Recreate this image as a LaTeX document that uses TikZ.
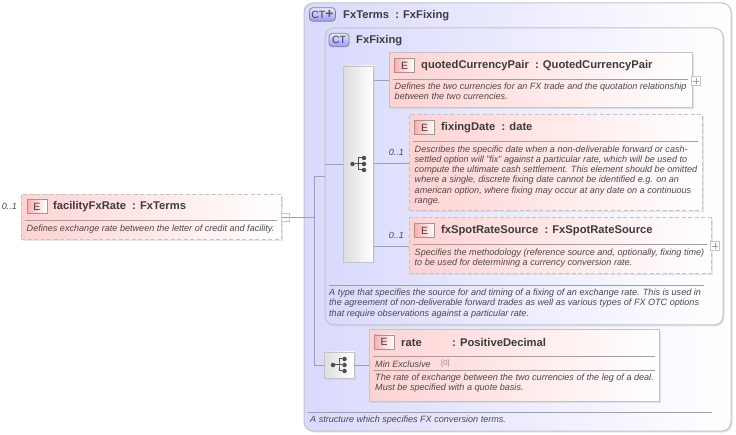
\documentclass[tikz,border=0pt]{standalone}
\usepackage{fontspec}
\setmainfont{Liberation Sans}
\usetikzlibrary{shadows}
\definecolor{ctblue}{HTML}{D9D9FE}
\definecolor{elpink}{HTML}{FFD2D2}
\definecolor{elred}{HTML}{FFACAC}
\definecolor{edgegrey}{HTML}{C4C4C4}
\definecolor{linegrey}{HTML}{A0A0A0}
\definecolor{textgrey}{HTML}{3C3C3C}
\definecolor{docgrey}{HTML}{4A4A4A}
\tikzset{
    softshadow/.style={drop shadow={shadow xshift=1.5pt,shadow yshift=-1.5pt,fill=black!20}},
    ctbox/.style={draw=edgegrey,line width=1pt,rounded corners=9pt,left color=ctblue,right color=white,softshadow,inner sep=0pt},
    elbox/.style={draw=edgegrey,line width=1pt,left color=elpink,right color=white,softshadow,inner sep=0pt},
    optbox/.style={elbox,dash pattern=on 4pt off 2.5pt},
    seqbox/.style={draw=edgegrey,line width=.8pt,left color=black!13,right color=white,softshadow,inner sep=0pt},
    tag/.style={draw=black!40,line width=.7pt,left color=elred,right color=white,minimum width=20pt,minimum height=14pt,inner sep=0pt,font=\fontsize{10.5}{10.5}\selectfont,text=textgrey},
    cttag/.style={draw=black!50,line width=.7pt,rounded corners=3.5pt,top color=ctblue!60,bottom color=ctblue!70!blue,minimum height=13.5pt,inner sep=1pt,font=\fontsize{10.5}{10.5}\selectfont,text=textgrey},
    title/.style={anchor=west,inner sep=0pt,font=\fontsize{11.2}{11.2}\selectfont\bfseries,text=textgrey},
    doc/.style={anchor=north west,inner sep=0pt,align=left,font=\fontsize{9.08}{10.2}\selectfont\itshape,text=docgrey},
    occ/.style={anchor=east,inner sep=0pt,font=\fontsize{9}{10}\selectfont\itshape,text=docgrey},
    rule/.style={draw=linegrey,line width=.7pt},
    conn/.style={draw=linegrey,line width=.7pt},
    toggle/.style={draw=edgegrey,line width=.7pt,fill=white,minimum size=8.5pt,inner sep=0pt},
    togmark/.style={draw=linegrey,line width=.6pt,shorten >=1.5pt,shorten <=1.5pt},
    hub/.style={fill=black!70,circle,inner sep=0pt,minimum size=4.5pt},
}
% sequence symbol, drawn at a named node
\newcommand{\seqicon}[1]{
    \node[hub](#1h)at([xshift=-6pt]#1.center){};
    \node[hub](#1a)at([xshift=5.5pt,yshift=6pt]#1.center){};
    \node[hub](#1b)at([xshift=5.5pt]#1.center){};
    \node[hub](#1c)at([xshift=5.5pt,yshift=-6pt]#1.center){};
    \draw[black!70,line width=1pt](#1h)--(#1b);
    \draw[black!70,line width=1pt](#1a)-|(#1.center)|-(#1c);
}
\begin{document}
\begin{tikzpicture}[x=1pt,y=-1pt]
    \useasboundingbox(0,0)rectangle(736,435);
    % complex types
    \node[ctbox,minimum width=427pt,minimum height=428pt](boxouter)at(517.5,217){};
    \node[ctbox,minimum width=398pt,minimum height=297pt](boxinner)at(524,176.5){};
    \node[cttag,minimum width=26pt](ctouter)at(322.5,14.5){CT{\fontsize{14}{10}\selectfont\bfseries\textcolor{black!65}{+}}};
    \node[title](ctoutername)at(343,15.5){FxTerms\ \ : FxFixing};
    \node[cttag,minimum width=20pt](ctinner)at(339,40){CT};
    \node[title](ctinnername)at(356,40.5){FxFixing};
    % sequences
    \node[seqbox,minimum width=29.5pt,minimum height=196pt](seqa)at(358.5,164){};
    \seqicon{seqa}
    \node[seqbox,minimum width=30pt,minimum height=26pt](seqb)at(339,365){};
    \seqicon{seqb}
    % facilityFxRate
    \node[optbox,minimum width=260pt,minimum height=45pt](boxf)at(151,217.5){};
    \node[tag](tagf)at(37,206.5){E};
    \node[title](namef)at(53,206.5){facilityFxRate\ \ : FxTerms};
    \draw[rule](25,220)--(277,220);
    \node[doc](docf)at(26.5,224.5){Defines exchange rate between the letter of credit and facility.};
    \node[occ](occf)at(17,206){0..1};
    \node[toggle](togf)at(285.5,217.5){};
    \draw[togmark](togf.west)--(togf.east);
    % quotedCurrencyPair
    \node[elbox,minimum width=303pt,minimum height=55pt](boxq)at(540.5,80.5){};
    \node[tag](tagq)at(404.5,65.5){E};
    \node[title](nameq)at(421,65.5){quotedCurrencyPair\ \ : QuotedCurrencyPair};
    \draw[rule](393,79)--(688,79);
    \node[doc](docq)at(394.5,83){Defines the two currencies for an FX trade and the quotation relationship\\between the two currencies.};
    \node[toggle](togq)at(696,81){};
    \draw[togmark](togq.west)--(togq.east);
    \draw[togmark](togq.north)--(togq.south);
    % fixingDate
    \node[optbox,minimum width=293pt,minimum height=96pt](boxd)at(555.5,163){};
    \node[tag](tagd)at(424.5,127.5){E};
    \node[title](named)at(441,128){fixingDate\ \ : date};
    \draw[rule](413,141)--(698,141);
    \node[doc](docd)at(414.5,145.5){Describes the specific date when a non-deliverable forward or cash-\\settled option will "fix" against a particular rate, which will be used to\\compute the ultimate cash settlement. This element should be omitted\\where a single, discrete fixing date cannot be identified e.g. on an\\american option, where fixing may occur at any date on a continuous\\range.};
    \node[occ](occd)at(404,152){0..1};
    % fxSpotRateSource
    \node[optbox,minimum width=302pt,minimum height=56pt](boxs)at(560,246){};
    \node[tag](tags)at(424.5,230.5){E};
    \node[title](names)at(441,230.5){fxSpotRateSource\ \ : FxSpotRateSource};
    \draw[rule](413,244)--(707,244);
    \node[doc](docs)at(414.5,248.5){Specifies the methodology (reference source and, optionally, fixing time)\\to be used for determining a currency conversion rate.};
    \node[occ](occs)at(404,235){0..1};
    \node[toggle](togs)at(715,246){};
    \draw[togmark](togs.west)--(togs.east);
    \draw[togmark](togs.north)--(togs.south);
    % notes of the types
    \draw[rule](329,285)--(704,285);
    \node[doc](docinner)at(329,289){A type that specifies the source for and timing of a fixing of an exchange rate. This is used in\\the agreement of non-deliverable forward trades as well as various types of FX OTC options\\that require observations against a particular rate.};
    \draw[rule](308,412)--(712,412);
    \node[doc](docouter)at(310,416){A structure which specifies FX conversion terms.};
    % rate
    \node[elbox,minimum width=290pt,minimum height=71pt](boxr)at(514,365.5){};
    \node[tag](tagr)at(384,342){E};
    \node[title](namer)at(401,342.5){rate};
    \node[title](typer)at(452,342.5){: PositiveDecimal};
    \draw[rule](373,356)--(655,356);
    \node[doc,anchor=west](minr)at(375,364){Min Exclusive};
    \node[anchor=west,inner sep=0pt,font=\fontsize{7.5}{8}\selectfont,text=black!45](valr)at(441,363.5){[0]};
    \draw[rule](373,370)--(655,370);
    \node[doc](docr)at(375,374){The rate of exchange between the two currencies of the leg of a deal.\\Must be specified with a quote basis.};
    % connectors
    \coordinate(trunk)at(314,217.5);
    \draw[conn](togf.east)--(trunk);
    \draw[conn](boxinner.west)--(boxinner.west-|trunk)--(trunk|-seqb)--(seqb.west);
    \draw[conn](boxinner.west|-seqa)--(seqa.west);
    \draw[conn](seqb.east)--(seqb.east-|boxr.west);
    \draw[conn](seqa.east|-boxq)--(boxq.west);
    \draw[conn](seqa.east|-boxd)--(boxd.west);
    \draw[conn](seqa.east|-boxs)--(boxs.west);
\end{tikzpicture}
\end{document}
